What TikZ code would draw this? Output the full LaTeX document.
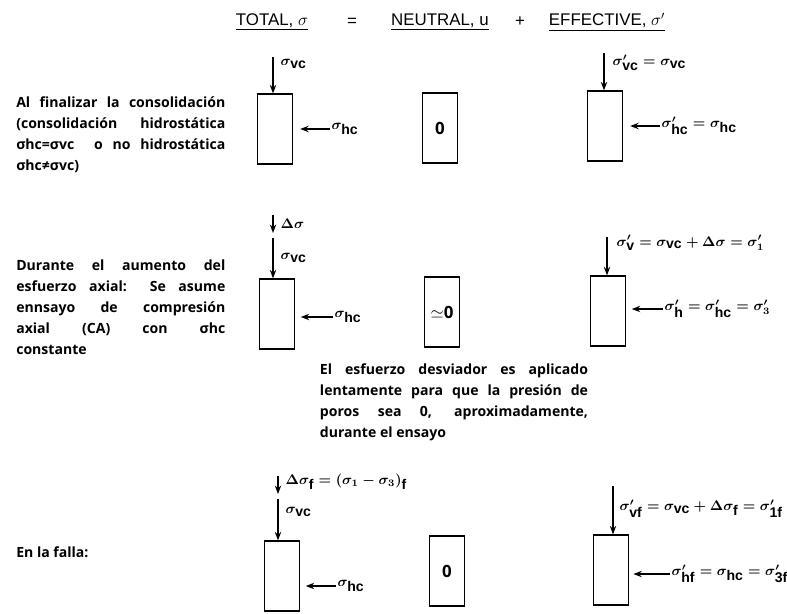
\documentclass[tikz,border=0pt]{standalone}
\usepackage{fontspec}
\setmainfont{Open Sans}
\setsansfont{Liberation Sans}
\usetikzlibrary{arrows.meta}
\newcommand{\ssub}[1]{\textsf{\textbf{#1}}}
\tikzset{
  specimen/.style={draw,line width=0.9pt,minimum width=0.875cm,minimum height=1.75cm,inner sep=0pt,font=\large\bfseries},
  load/.style={line width=1.1pt,-{Stealth[length=6pt,width=4.5pt]}},
  lbl/.style={anchor=west,inner sep=1pt,font=\normalsize\boldmath},
  note/.style={font=\fontsize{10}{14.9}\selectfont\bfseries,align=justify,inner sep=0pt},
  head/.style={font=\sffamily\large}
}
\begin{document}
\begin{tikzpicture}[x=0.025cm,y=-0.025cm]
  \useasboundingbox (0,0) rectangle (787,613);
  % header
  \node[head] (tot) at (272,22) {\underline{TOTAL, $\sigma$}};
  \node[head] (eq) at (352,22) {=};
  \node[head] (neu) at (440,22) {\underline{NEUTRAL, u}};
  \node[head] (pl) at (520,22) {+};
  \node[head] (eff) at (607,22) {\underline{EFFECTIVE, $\sigma'$}};
  % row 1: end of consolidation
  \node[note,text width=5.225cm,anchor=west] (t1) at (16,135)
    {Al finalizar la consolidación\linebreak (consolidación hidrostática\linebreak
     σhc=σvc\ \ o no hidrostática\linebreak σhc≠σvc)};
  \node[specimen] (b11) at (275,129) {};
  \coordinate (v11) at (273,57);
  \draw[load] (v11) -- (v11 |- b11.north);
  \node[lbl] (s11) at (279,64) {$\sigma_{\ssub{vc}}$};
  \node[lbl] (h11) at (330,129) {$\sigma_{\ssub{hc}}$};
  \draw[load,shorten >=5pt] (h11.west) -- (h11.west -| b11.east);
  \node[specimen] (b12) at (440,128) {0};
  \node[specimen] (b13) at (605,126) {};
  \coordinate (v13) at (604,53);
  \draw[load] (v13) -- (v13 |- b13.north);
  \node[lbl] (s13) at (611,63) {$\sigma'_{\ssub{vc}}=\sigma_{\ssub{vc}}$};
  \node[lbl] (h13) at (660,126) {$\sigma'_{\ssub{hc}}=\sigma_{\ssub{hc}}$};
  \draw[load,shorten >=5pt] (h13.west) -- (h13.west -| b13.east);
  % row 2: axial loading
  \node[note,text width=5.225cm,anchor=west] (t2) at (16,307)
    {Durante el aumento del\linebreak esfuerzo axial: Se asume\linebreak
     ennsayo de compresión\linebreak axial (CA) con σhc\linebreak constante};
  \node[specimen] (b21) at (277,314) {};
  \coordinate (d21a) at (273,215);
  \coordinate (d21b) at (273,233);
  \draw[load] (d21a) -- (d21b);
  \node[lbl] (a21) at (279,224) {$\Delta\sigma$};
  \coordinate (v21) at (273,238);
  \draw[load] (v21) -- (v21 |- b21.north);
  \node[lbl] (s21) at (279,258) {$\sigma_{\ssub{vc}}$};
  \node[lbl] (h21) at (333,317) {$\sigma_{\ssub{hc}}$};
  \draw[load,shorten >=4pt] (h21.west) -- (h21.west -| b21.east);
  \node[specimen] (b22) at (442,312) {$\simeq$0};
  \node[specimen] (b23) at (608,311) {};
  \coordinate (v23) at (607,237);
  \draw[load] (v23) -- (v23 |- b23.north);
  \node[lbl] (s23) at (615,243) {$\sigma'_{\ssub{v}}=\sigma_{\ssub{vc}}+\Delta\sigma=\sigma'_{1}$};
  \node[lbl] (h23) at (663,309) {$\sigma'_{\ssub{h}}=\sigma'_{\ssub{hc}}=\sigma'_{3}$};
  \draw[load,shorten >=4pt] (h23.west) -- (h23.west -| b23.east);
  \node[note,text width=6.7cm] (t3) at (454,402)
    {El esfuerzo desviador es aplicado\linebreak lentamente para que la presión de\linebreak
     poros sea 0, aproximadamente,\linebreak durante el ensayo};
  % row 3: failure
  \node[note,anchor=west] (t4) at (16,552) {En la falla:};
  \node[specimen] (b31) at (282,576) {};
  \coordinate (d31a) at (278,476);
  \coordinate (d31b) at (278,494);
  \draw[load] (d31a) -- (d31b);
  \node[lbl] (a31) at (284,482) {$\Delta\sigma_{\ssub{f}}=(\sigma_1-\sigma_3)_{\ssub{f}}$};
  \coordinate (v31) at (278,499);
  \draw[load] (v31) -- (v31 |- b31.north);
  \node[lbl] (s31) at (284,512) {$\sigma_{\ssub{vc}}$};
  \node[lbl] (h31) at (336,586) {$\sigma_{\ssub{hc}}$};
  \draw[load,shorten >=4pt] (h31.west) -- (h31.west -| b31.east);
  \node[specimen] (b32) at (447,571) {0};
  \node[specimen] (b33) at (611,570) {};
  \coordinate (v33) at (613,486);
  \draw[load] (v33) -- (v33 |- b33.north);
  \node[lbl] (s33) at (618,509) {$\sigma'_{\ssub{vf}}=\sigma_{\ssub{vc}}+\Delta\sigma_{\ssub{f}}=\sigma'_{\ssub{1f}}$};
  \node[lbl] (h33) at (670,574) {$\sigma'_{\ssub{hf}}=\sigma_{\ssub{hc}}=\sigma'_{\ssub{3f}}$};
  \draw[load,shorten >=3pt] (h33.west) -- (h33.west -| b33.east);
\end{tikzpicture}
\end{document}
